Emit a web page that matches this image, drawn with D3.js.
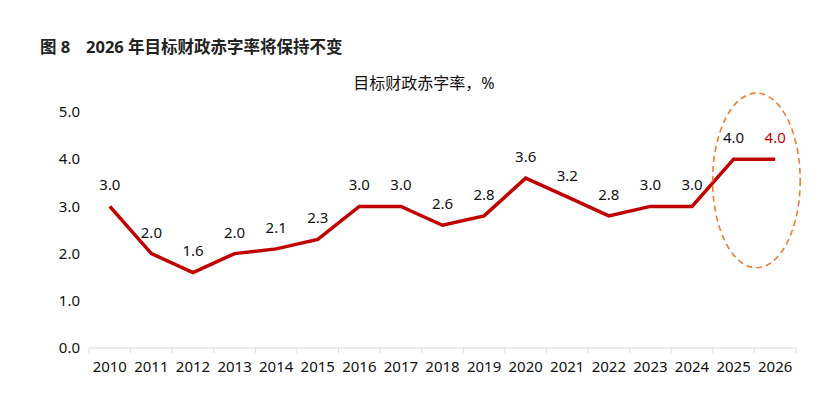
<!DOCTYPE html>
<html>
<head>
<meta charset="utf-8">
<script src="https://cdn.jsdelivr.net/npm/d3@7"></script>
<style>
  html, body { margin: 0; padding: 0; background: #fff; }
  svg { display: block; }
  text { font-family: "Noto Sans", "Noto Sans CJK SC", sans-serif; }
</style>
</head>
<body>
<svg id="chart" width="834" height="395"></svg>
<script>
//

const years = ['2010', '2011', '2012', '2013', '2014', '2015', '2016', '2017', '2018',
  '2019', '2020', '2021', '2022', '2023', '2024', '2025', '2026']
const deficitRate = [3.0, 2.0, 1.6, 2.0, 2.1, 2.3, 3.0, 3.0, 2.6, 2.8, 3.6, 3.2, 2.8, 3.0, 3.0, 4.0, 4.0]
const yTicks = [0, 1, 2, 3, 4, 5]
const highlightYears = ['2025', '2026']

const figureLabel = '图 8'
const figureTitle = '2026 年目标财政赤字率将保持不变'
const seriesTitle = '目标财政赤字率，%'

//

const svg = d3.select('#chart')

const x = d3.scaleBand()
  .domain(years)
  .range([89, 796])

const y = d3.scaleLinear()
  .domain([0, 5])
  .range([348, 112])

const cx = (d) => x(d) + x.bandwidth() / 2

// title
const title = svg.append('text')
  .attr('y', 53)
  .attr('font-family', '"Noto Sans CJK SC", sans-serif')
  .attr('font-weight', 'bold')
  .attr('font-size', 16.5)
  .attr('fill', '#222')

title.append('tspan')
  .attr('x', 40)
  .text(figureLabel)

title.append('tspan')
  .attr('x', 86)
  .text(figureTitle)

svg.append('text')
  .attr('x', 424)
  .attr('y', 89)
  .attr('text-anchor', 'middle')
  .attr('font-family', '"Noto Sans CJK SC", sans-serif')
  .attr('font-size', 16)
  .attr('fill', '#111')
  .text(seriesTitle)

// y axis labels, no line
svg.append('g')
  .selectAll('text')
  .data(yTicks)
  .join('text')
  .attr('x', 80)
  .attr('y', (d) => y(d))
  .attr('dy', '0.35em')
  .attr('text-anchor', 'end')
  .attr('font-size', 15)
  .attr('fill', '#111')
  .text((d) => d3.format('.1f')(d))

// x axis: light baseline with ticks at band edges
const xAxis = svg.append('g')
  .attr('transform', `translate(0, ${y(0)})`)

xAxis.append('line')
  .attr('x1', x.range()[0])
  .attr('x2', x.range()[1])
  .attr('stroke', '#d9d9d9')
  .attr('stroke-width', 1)

xAxis.selectAll('line.tick')
  .data(years.concat(['end']))
  .join('line')
  .attr('class', 'tick')
  .attr('x1', (d, i) => x.range()[0] + i * x.step())
  .attr('x2', (d, i) => x.range()[0] + i * x.step())
  .attr('y1', 0)
  .attr('y2', 5)
  .attr('stroke', '#d9d9d9')

xAxis.selectAll('text')
  .data(years)
  .join('text')
  .attr('x', cx)
  .attr('y', 24)
  .attr('text-anchor', 'middle')
  .attr('font-size', 15)
  .attr('fill', '#111')
  .text((d) => d)

// line
const line = d3.line()
  .x((d, i) => cx(years[i]))
  .y((d) => y(d))

svg.append('path')
  .datum(deficitRate)
  .attr('d', line)
  .attr('fill', 'none')
  .attr('stroke', '#C00000')
  .attr('stroke-width', 3.5)
  .attr('stroke-linejoin', 'miter')

// data labels
svg.append('g')
  .selectAll('text')
  .data(deficitRate)
  .join('text')
  .attr('x', (d, i) => cx(years[i]))
  .attr('y', (d) => y(d) - 16)
  .attr('text-anchor', 'middle')
  .attr('font-size', 15)
  .attr('fill', (d, i) => i === years.length - 1 ? '#C00000' : '#111')
  .text((d) => d3.format('.1f')(d))

// dashed ellipse around the last two years
const ex0 = cx(highlightYears[0])
const ex1 = cx(highlightYears[1])
svg.append('ellipse')
  .attr('cx', (ex0 + ex1) / 2 + 2)
  .attr('cy', y(3.55))
  .attr('rx', (ex1 - ex0) / 2 + 23)
  .attr('ry', (y(1.7) - y(5.4)) / 2)
  .attr('fill', 'none')
  .attr('stroke', '#ED7D31')
  .attr('stroke-width', 1.6)
  .attr('stroke-dasharray', '6,4')
</script>
</body>
</html>
